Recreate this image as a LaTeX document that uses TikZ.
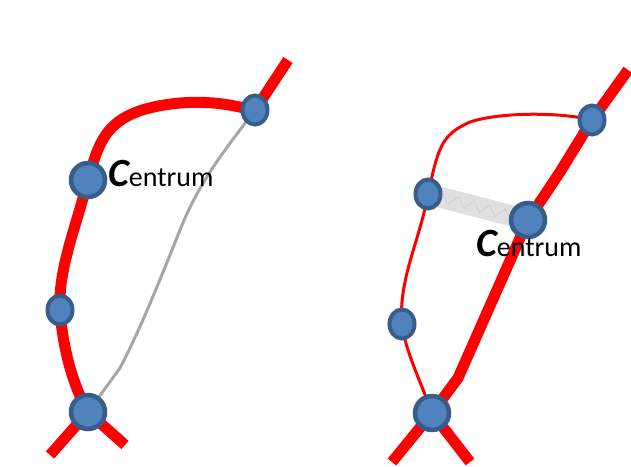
\documentclass[tikz,border=0pt]{standalone}
\usepackage{fontspec}
\setmainfont{Carlito}
\usetikzlibrary{shapes.geometric,decorations.pathmorphing,calc}
\definecolor{nodefill}{RGB}{79,129,189}
\definecolor{nodeedge}{RGB}{56,93,138}
\definecolor{railred}{RGB}{255,0,0}
\tikzset{
  x=1pt,y=-1pt,
  bignode/.style={circle,fill=nodefill,draw=nodeedge,line width=4.5pt,minimum size=34pt,inner sep=0pt},
  smallnode/.style={ellipse,fill=nodefill,draw=nodeedge,line width=4pt,minimum width=25pt,minimum height=29pt,inner sep=0pt},
  thickrail/.style={draw=railred,line width=11pt},
  thinrail/.style={draw=railred,line width=3pt},
  grayrail/.style={draw=gray!70,line width=3pt},
  band/.style={draw=gray!25,line width=21pt},
  bandtex/.style={draw=gray!40,line width=0.6pt,decorate,decoration={zigzag,segment length=16pt,amplitude=5pt}},
  lbl/.style={anchor=base west,inner sep=0pt,font=\fontsize{28}{28}\selectfont},
}
\newcommand{\bigC}{{\fontsize{40}{40}\selectfont\bfseries\itshape C}}
\begin{document}
\begin{tikzpicture}
\useasboundingbox (0,0) rectangle (631,466);
% free ends
\coordinate (la) at (50,455);
\coordinate (lb) at (125,445);
\coordinate (lc) at (288,60);
\coordinate (rd) at (392,462);
\coordinate (re) at (470,462);
\coordinate (rf) at (628,70);
% positions
\path (88,412) coordinate (pA1) (60,310) coordinate (pA2) (88,180) coordinate (pA3) (255,110) coordinate (pA4);
\path (432,413) coordinate (pB1) (402,324) coordinate (pB2) (428,194) coordinate (pB3) (528,220) coordinate (pB4) (592,120) coordinate (pB5);
% left rails
\draw[grayrail] (pA4) .. controls (225,150) and (200,180) .. (180,230)
   .. controls (160,280) and (140,330) .. (120,368) -- (pA1);
\draw[thickrail] (la) -- (pA1) -- (lb);
\draw[thickrail] (pA1) .. controls (70,380) and (62,340) .. (pA2)
   .. controls (58,270) and (75,230) .. (pA3)
   .. controls (100,140) and (105,110) .. (180,103)
   .. controls (220,100) and (240,108) .. (pA4) -- (lc);
% right rails
\draw[band] (pB3) -- (pB4);
\draw[bandtex] ($(pB3)!0.1!(pB4)$) -- ($(pB3)!0.85!(pB4)$);
\draw[thinrail] (pB1) .. controls (420,380) and (405,350) .. (pB2)
   .. controls (398,280) and (420,240) .. (pB3)
   .. controls (438,150) and (440,135) .. (470,122)
   .. controls (500,112) and (560,112) .. (pB5);
\draw[thickrail] (rd) -- (pB1) -- (re);
\draw[thickrail] (pB1) -- (458,378) -- (pB4) -- (560,172) -- (pB5) -- (rf);
% nodes
\node[bignode] (A1) at (pA1) {};
\node[smallnode] (A2) at (pA2) {};
\node[bignode] (A3) at (pA3) {};
\node[smallnode] (A4) at (pA4) {};
\node[bignode] (B1) at (pB1) {};
\node[smallnode] (B2) at (pB2) {};
\node[smallnode] (B3) at (pB3) {};
\node[bignode] (B4) at (pB4) {};
\node[smallnode] (B5) at (pB5) {};
% labels
\node[lbl] (L1) at (108,186) {\bigC entrum};
\node[lbl] (L2) at (476,256) {\bigC entrum};
\end{tikzpicture}
\end{document}
